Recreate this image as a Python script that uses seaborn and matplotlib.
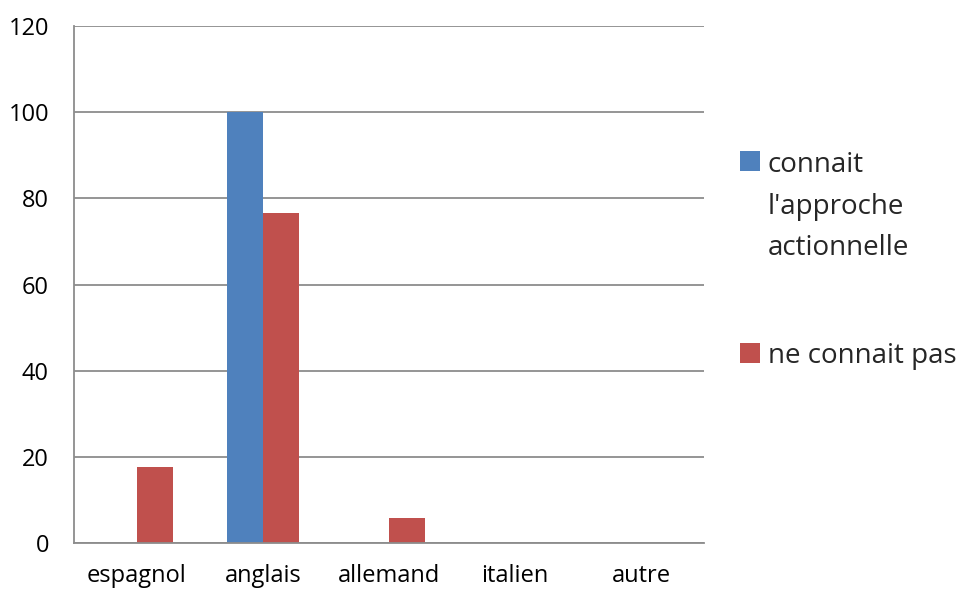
import pandas as pd
import matplotlib.pyplot as plt
import seaborn as sns
from matplotlib.patches import Rectangle
from matplotlib.legend_handler import HandlerPatch

# données
langues = ["espagnol", "anglais", "allemand", "italien", "autre"]
connait = [0, 100, 0, 0, 0]
ne_connait_pas = [17.6, 76.5, 5.9, 0, 0]
series = ["connait\nl'approche\nactionnelle", "ne connait pas"]
couleurs = ["#4F81BD", "#C0504D"]

df = pd.DataFrame({
    "langue": langues * 2,
    "valeur": connait + ne_connait_pas,
    "serie": [series[0]] * len(langues) + [series[1]] * len(langues),
})

sns.set_style("white")
plt.rcParams["font.family"] = ["Open Sans", "DejaVu Sans"]

fig = plt.figure(figsize=(9.57, 5.89), dpi=100)
ax = fig.add_axes([74 / 957, 1 - 543 / 589, 630 / 957, 517 / 589])

sns.barplot(data=df, x="langue", y="valeur", hue="serie", hue_order=series,
            palette=couleurs, width=0.57, saturation=1, edgecolor="none",
            linewidth=0, ax=ax)

ax.set_ylim(0, 120)
ax.set_yticks(range(0, 121, 20))
ax.grid(axis="y", color="#8c8c8c", lw=1.3)
ax.set_axisbelow(True)
ax.set_xlabel("")
ax.set_ylabel("")
for side in ["top", "right"]:
    ax.spines[side].set_visible(False)
for side in ["left", "bottom"]:
    ax.spines[side].set_color("#8c8c8c")
    ax.spines[side].set_linewidth(1.3)
ax.tick_params(axis="y", length=0, pad=18, labelsize=17, colors="black")
ax.tick_params(axis="x", length=0, pad=15, labelsize=17, colors="black")


# carré de légende aligné sur la première ligne du libellé (comme Excel)
def carre(legend, orig_handle, xdescent, ydescent, width, height, fontsize):
    n = orig_handle.get_label().count("\n")
    decal = n * 16.8
    return Rectangle((-xdescent, -ydescent + decal), width, height)


handles, labels = ax.get_legend_handles_labels()
for h, lab in zip(handles, labels):
    h.set_label(lab)
leg = ax.legend(handles, labels, loc="upper left", bbox_to_anchor=(729 / 957, 1 - 140 / 589),
                bbox_transform=fig.transFigure, frameon=False, fontsize=20,
                handlelength=0.72, handleheight=0.72, handletextpad=0.28,
                labelspacing=2.85, borderaxespad=0,
                handler_map={Rectangle: HandlerPatch(patch_func=carre)})
for t in leg.get_texts():
    t.set_linespacing(1.65)

fig.savefig("out.png", dpi=100, facecolor="white")
